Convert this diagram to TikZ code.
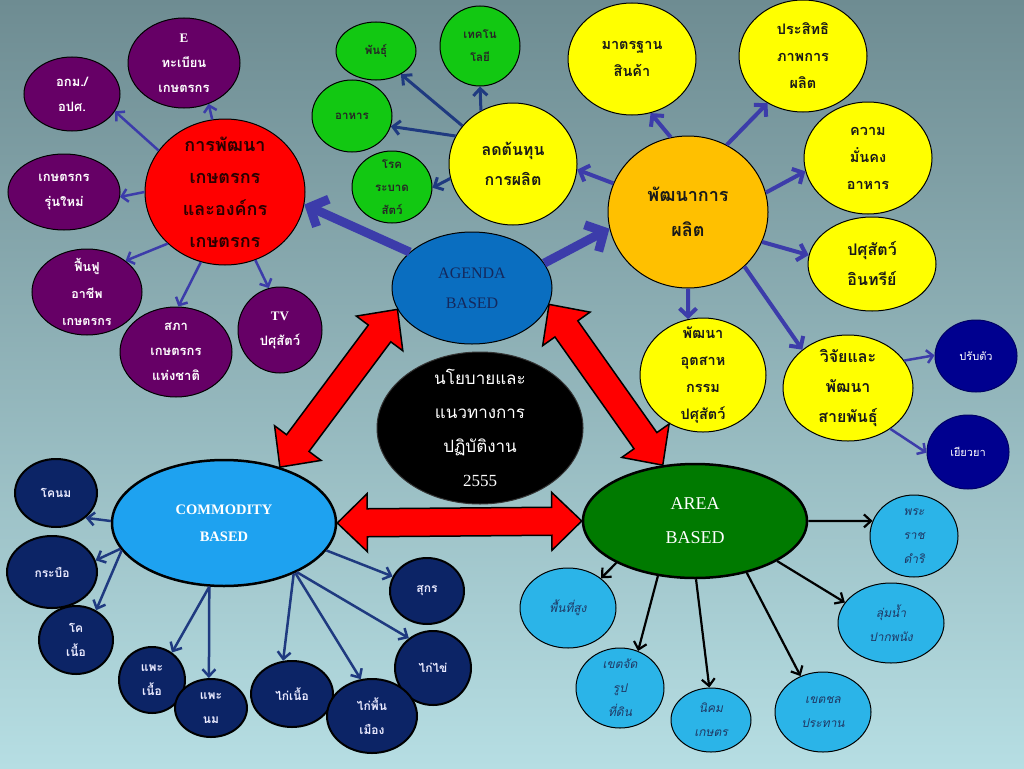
\documentclass[tikz,border=0pt]{standalone}
\usepackage{fontspec}
\setmainfont{Liberation Serif}
\newfontfamily\thai[Script=Thai]{Loma}
\usetikzlibrary{shapes.geometric,arrows.meta,calc}
\definecolor{bgtop}{HTML}{6E8C92}
\definecolor{bgbot}{HTML}{B6DEE3}
\definecolor{pur}{HTML}{660066}
\definecolor{grn}{HTML}{12C812}
\definecolor{yel}{HTML}{FFFF00}
\definecolor{orn}{HTML}{FFC000}
\definecolor{navyc}{HTML}{00008F}
\definecolor{agc}{HTML}{0A6EC0}
\definecolor{comc}{HTML}{1EA2F0}
\definecolor{areac}{HTML}{007A00}
\definecolor{cchild}{HTML}{0C2466}
\definecolor{achild}{HTML}{2BB4E8}
\definecolor{arrblue}{HTML}{3C3CAA}
\definecolor{arrnavy}{HTML}{1F3A80}
\definecolor{agtext}{HTML}{14285C}
\definecolor{atext}{HTML}{1F3864}
\definecolor{redtext}{HTML}{2A0000}
\newcommand\bub[8][]{\node[bub,fill=#2,minimum width=#5pt,minimum height=#6pt,#1] (#3) at (#4) {};\node[#7] (#3t) at (#3) {#8};}
\newcommand\blockarr[2]{%
 \coordinate (#1P) at ($(#1)!30pt!(#2)$);
 \coordinate (#2Q) at ($(#2)!30pt!(#1)$);
 \draw[blk] (#1) -- ($(#1P)!29pt!90:(#2)$) -- ($(#1P)!14pt!90:(#2)$) -- ($(#2Q)!14pt!-90:(#1)$) -- ($(#2Q)!29pt!-90:(#1)$) -- (#2) -- ($(#2Q)!29pt!90:(#1)$) -- ($(#2Q)!14pt!90:(#1)$) -- ($(#1P)!14pt!-90:(#2)$) -- ($(#1P)!29pt!-90:(#2)$) -- cycle;}
\tikzset{
 bub/.style={ellipse, draw=black, line width=1pt, inner sep=0pt},
 heavy/.style={line width=2.5pt},
 kid/.style={line width=2pt},
 tx/.style={align=center, inner sep=0pt},
 ptxt/.style={tx, text=white, font={\thai\bfseries\fontsize{13}{25}\selectfont}},
 ptxtb/.style={tx, text=white, font={\thai\bfseries\fontsize{12.5}{27}\selectfont}},
 rtxt/.style={tx, text=redtext, font={\thai\bfseries\fontsize{18}{32}\selectfont}},
 gtxt/.style={tx, text=black!85, font={\thai\bfseries\fontsize{11.5}{23}\selectfont}},
 ytxt/.style={tx, text=black!90, font={\thai\bfseries\fontsize{14.5}{27}\selectfont}},
 ctxt2/.style={tx, text=black!90, font={\thai\bfseries\fontsize{16}{30}\selectfont}},
 otxt/.style={tx, text=black!90, font={\thai\bfseries\fontsize{18}{35}\selectfont}},
 ntxt/.style={tx, text=white, font={\thai\fontsize{11}{22}\selectfont}},
 kidtxt/.style={tx, text=white!92!blue, font={\thai\bfseries\fontsize{12}{24}\selectfont}},
 atxt/.style={tx, text=atext, font={\thai\itshape\fontsize{12}{24}\selectfont}},
 agtxt/.style={tx, text=agtext, font={\fontsize{16}{30}\selectfont}},
 comtxt/.style={tx, text=white, font={\bfseries\fontsize{14.5}{27}\selectfont}},
 areatxt/.style={tx, text=white, font={\fontsize{18}{34}\selectfont}},
 poltxt/.style={tx, text=white, font={\thai\fontsize{17}{34}\selectfont}},
 parr/.style={draw=arrblue, line width=2.5pt, -{Straight Barb[length=6pt,width=13pt]}},
 bigarr/.style={draw=arrblue, line width=9pt, -{Straight Barb[length=14pt,width=30pt]}},
 yarr/.style={draw=arrblue, line width=4pt, -{Straight Barb[length=8pt,width=17pt]}},
 garr/.style={draw=arrnavy, line width=3pt, -{Straight Barb[length=7pt,width=14pt]}},
 carr/.style={draw=arrnavy, line width=2.5pt, -{Straight Barb[length=7pt,width=13pt]}},
 aarr/.style={draw=black, line width=2.2pt, -{Straight Barb[length=7pt,width=13pt]}},
 blk/.style={fill=red, draw=black, line width=1.5pt, line join=miter}
}
\begin{document}
\begin{tikzpicture}[x=1pt,y=-1pt]
\useasboundingbox (0,0) rectangle (1024,768);
\shade[top color=bgtop,bottom color=bgbot] (0,0) rectangle (1024,768);

% purple group
\bub{pur}{agm}{72,94}{96}{74}{ptxt}{อกม./\\อปศ.}
\bub{pur}{ereg}{184,63}{112}{90}{ptxt}{{\rmfamily\bfseries E}\\ทะเบียน\\เกษตรกร}
\bub{pur}{newf}{64,192}{112}{76}{ptxt}{เกษตรกร\\รุ่นใหม่}
\bub{pur}{rev}{87,292}{110}{86}{ptxtb}{ฟื้นฟู\\อาชีพ\\เกษตรกร}
\bub{pur}{sapha}{176,352}{112}{90}{ptxt}{สภา\\เกษตรกร\\แห่งชาติ}
\bub{pur}{tv}{280,330}{84}{86}{ptxt}{{\rmfamily\bfseries TV}\\ปศุสัตว์}
\bub{red}{red}{225,192}{160}{146}{rtxt}{การพัฒนา\\เกษตรกร\\และองค์กร\\เกษตรกร}

% green group
\bub{grn}{breed}{376,51}{80}{58}{gtxt}{พันธุ์}
\bub{grn}{tech}{480,46}{80}{80}{gtxt}{เทคโน\\โลยี}
\bub{grn}{food}{352,116}{80}{72}{gtxt}{อาหาร}
\bub{grn}{dis}{392,187}{80}{72}{gtxt}{โรค\\ระบาด\\สัตว์}
\bub{yel}{cost}{513,164}{128}{122}{ctxt2}{ลดต้นทุน\\การผลิต}

% yellow group
\bub{yel}{std}{632,59}{128}{112}{ytxt}{มาตรฐาน\\สินค้า}
\bub{yel}{eff}{803,56}{128}{112}{ytxt}{ประสิทธิ\\ภาพการ\\ผลิต}
\bub{yel}{sec}{868,158}{128}{112}{ytxt}{ความ\\มั่นคง\\อาหาร}
\bub{yel}{org}{872,264}{128}{94}{ctxt2}{ปศุสัตว์\\อินทรีย์}
\bub{yel}{ind}{703,375}{126}{114}{ytxt}{พัฒนา\\อุตสาห\\กรรม\\ปศุสัตว์}
\bub{yel}{res}{848,388}{130}{106}{ctxt2}{วิจัยและ\\พัฒนา\\สายพันธุ์}
\bub{orn}{prod}{688,212}{160}{152}{otxt}{พัฒนาการ\\ผลิต}
\bub[draw=navyc!70!black]{navyc}{adj}{976,356}{82}{72}{ntxt}{ปรับตัว}
\bub[draw=navyc!70!black]{navyc}{rem}{968,452}{82}{74}{ntxt}{เยียวยา}

% centre
\bub{agc}{ag}{472,288}{160}{112}{agtxt}{AGENDA\\BASED}
\bub[draw=black!80]{black}{pol}{480,428}{206}{152}{poltxt}{นโยบายและ\\แนวทางการ\\ปฏิบัติงาน\\{\rmfamily 2555}}

% commodity
\bub[heavy]{comc}{com}{224,523}{224}{126}{comtxt}{COMMODITY\\BASED}
\bub[kid]{cchild}{cow}{56,493}{82}{68}{kidtxt}{โคนม}
\bub[kid]{cchild}{buf}{52,572}{90}{72}{kidtxt}{กระบือ}
\bub[kid]{cchild}{beef}{76,640}{74}{68}{kidtxt}{โค\\เนื้อ}
\bub[kid]{cchild}{gm}{152,680}{66}{66}{kidtxt}{แพะ\\เนื้อ}
\bub[kid]{cchild}{gmilk}{211,708}{72}{58}{kidtxt}{แพะ\\นม}
\bub[kid]{cchild}{broil}{292,694}{82}{66}{kidtxt}{ไก่เนื้อ}
\bub[kid]{cchild}{layer}{433,668}{76}{74}{kidtxt}{ไก่ไข่}
\bub[kid]{cchild}{native}{372,716}{90}{74}{kidtxt}{ไก่พื้น\\เมือง}
\bub[kid]{cchild}{pig}{427,591}{74}{66}{kidtxt}{สุกร}

% area
\bub[heavy]{areac}{area}{695,521}{224}{114}{areatxt}{AREA\\BASED}
\bub{achild}{hill}{568,608}{96}{80}{atxt}{พื้นที่สูง}
\bub{achild}{land}{620,688}{88}{80}{atxt}{เขตจัด\\รูป\\ที่ดิน}
\bub{achild}{nikhom}{711,720}{80}{64}{atxt}{นิคม\\เกษตร}
\bub{achild}{irr}{823,712}{96}{80}{atxt}{เขตชล\\ประทาน}
\bub{achild}{royal}{914,536}{88}{82}{atxt}{พระ\\ราช\\ดำริ}
\bub{achild}{basin}{891,623}{106}{80}{atxt}{ลุ่มน้ำ\\ปากพนัง}

% block arrows
\coordinate (t1) at (ag.-164);
\coordinate (t2) at (com.45);
\coordinate (t3) at (ag.-12);
\coordinate (t4) at (area.120);
\coordinate (t5) at (com.east);
\coordinate (t6) at (area.west);
\blockarr{t1}{t2}
\blockarr{t3}{t4}
\blockarr{t5}{t6}

% purple arrows
\draw[parr] (red.148) -- (agm.-22);
\draw[parr] (red.100) -- (ereg.-59);
\draw[parr] (red.180) -- (newf.-5);
\draw[parr] (red.-138) -- (rev.39);
\draw[parr] (red.-109) -- (sapha.87);
\draw[parr] (red.-66) -- (tv.105);

% thick arrows
\draw[bigarr] (ag.150) -- (red.-9);
\draw[bigarr] (ag.19) -- (prod.-168);

% green arrows
\draw[garr] (cost.143) -- (breed.-43);
\draw[garr] (cost.121) -- (tech.-90);
\draw[garr] (cost.154) -- (food.-15);
\draw[garr] (cost.-167) -- (dis.-1);

% production arrows
\draw[yarr] (prod.159) -- (cost.-5);
\draw[yarr] (prod.103) -- (std.-71);
\draw[yarr] (prod.60) -- (eff.-127);
\draw[yarr] (prod.14) -- (sec.-168);
\draw[yarr] (prod.-22) -- (org.172);
\draw[yarr] (prod.-90) -- (ind.105);
\draw[yarr] (prod.-44) -- (res.140);
\draw[parr] (res.26) -- (adj.179);
\draw[parr] (res.-44) -- (rem.-179);

% commodity arrows
\draw[carr] (com.179) -- (cow.-40);
\draw[carr] (com.-166) -- (buf.15);
\draw[carr] (com.-165) -- (beef.56);
\draw[carr] (com.-103) -- (gm.54);
\draw[carr] (com.-103) -- (gmilk.94);
\draw[carr] (com.-36) -- (broil.105);
\draw[carr] (com.-35) -- (native.107);
\draw[carr] (com.-34) -- (layer.129);
\draw[carr] (com.-15) -- (pig.157);

% area arrows
\draw[aarr] (area.0) -- (royal.160);
\draw[aarr] (area.-26) -- (basin.156);
\draw[aarr] (area.-152) -- (hill.42);
\draw[aarr] (area.-124) -- (land.64);
\draw[aarr] (area.-89) -- (nikhom.93);
\draw[aarr] (area.-45) -- (irr.122);
\end{tikzpicture}
\end{document}
